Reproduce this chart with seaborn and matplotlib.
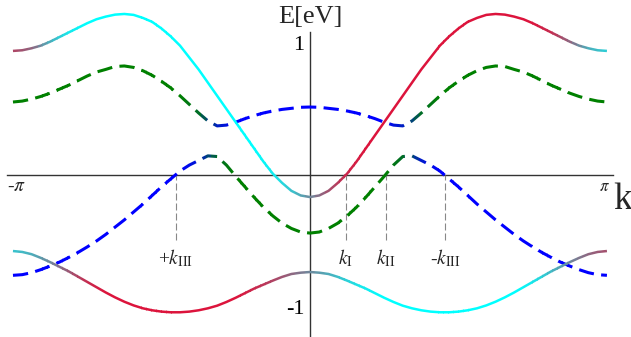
import numpy as np
import matplotlib
matplotlib.use("Agg")
import matplotlib.pyplot as plt
from matplotlib.patches import Rectangle
from matplotlib import colors as mcolors
import seaborn as sns

# bands are even in k: values read for k = 0 .. pi in steps of pi/32
k_half = np.linspace(0, np.pi, 33)

upper_solid_half = [-0.167, -0.155, -0.12, -0.06, 0.01, 0.10, 0.20, 0.30, 0.40, 0.50, 0.60, 0.70, 0.80, 0.89,
                    0.98, 1.05, 1.11, 1.16, 1.19, 1.213, 1.22, 1.215, 1.20, 1.18, 1.15, 1.115, 1.08, 1.045,
                    1.01, 0.98, 0.96, 0.945, 0.94]
lower_solid_half = [-0.735, -0.74, -0.75, -0.772, -0.80, -0.83, -0.86, -0.895, -0.93, -0.962, -0.99, -1.01,
                    -1.025, -1.035, -1.04, -1.04, -1.035, -1.025, -1.01, -0.988, -0.96, -0.927, -0.89, -0.85,
                    -0.81, -0.77, -0.73, -0.695, -0.66, -0.628, -0.60, -0.583, -0.576]
upper_dashed_half = [0.515, 0.513, 0.505, 0.497, 0.485, 0.47, 0.45, 0.427, 0.40, 0.378, 0.372, 0.41, 0.47,
                     0.535, 0.60, 0.66, 0.71, 0.755, 0.79, 0.815, 0.826, 0.822, 0.80, 0.78, 0.75, 0.715, 0.68,
                     0.65, 0.62, 0.595, 0.575, 0.56, 0.553]
lower_dashed_half = [-0.44, -0.432, -0.405, -0.365, -0.31, -0.245, -0.17, -0.09, -0.01, 0.075, 0.14, 0.145,
                     0.11, 0.075, 0.03, -0.03, -0.09, -0.155, -0.22, -0.28, -0.34, -0.395, -0.45, -0.50,
                     -0.545, -0.587, -0.625, -0.66, -0.69, -0.717, -0.74, -0.755, -0.76]

# colour mix along each band on a coarser grid (0 -> first colour, 1 -> second colour)
k_mix = np.linspace(-np.pi, np.pi, 33)
upper_solid_mix = [0.8, 0.65, 0.35, 0.1, 0, 0, 0, 0, 0, 0, 0, 0, 0, 0, 0.08, 0.25,
                   0.5,
                   0.75, 0.92, 1, 1, 1, 1, 1, 1, 1, 1, 1, 1, 0.9, 0.65, 0.35, 0.2]
lower_solid_mix = [0.25, 0.35, 0.5, 0.7, 0.9, 1, 1, 1, 1, 1, 1, 1, 1, 0.92, 0.8, 0.65,
                   0.5,
                   0.35, 0.2, 0.08, 0, 0, 0, 0, 0, 0, 0, 0, 0.1, 0.3, 0.5, 0.65, 0.75]
upper_dashed_mix = [0, 0, 0, 0, 0, 0, 0, 0, 0, 0, 0.15, 0.75, 1, 1, 1, 1,
                    1,
                    1, 1, 1, 1, 0.75, 0.15, 0, 0, 0, 0, 0, 0, 0, 0, 0, 0]
lower_dashed_mix = [1, 1, 1, 1, 1, 1, 1, 1, 1, 1, 0.8, 0.15, 0, 0, 0, 0,
                    0,
                    0, 0, 0, 0, 0.15, 0.8, 1, 1, 1, 1, 1, 1, 1, 1, 1, 1]

# marked Fermi crossings
guide_k = [-1.42, 0.38, 0.80, 1.43]
guide_labels = ['+$k_{\\mathrm{III}}$', '$k_{\\mathrm{I}}$', '$k_{\\mathrm{II}}$', '-$k_{\\mathrm{III}}$']

k = np.concatenate([-k_half[::-1], k_half[1:]])


def mirror(half):
    half = np.asarray(half)
    return np.concatenate([half[::-1], half[1:]])


sns.set_style("white")
plt.rcParams['font.family'] = ['Liberation Serif', 'DejaVu Serif']
plt.rcParams['mathtext.fontset'] = 'stix'

fig = plt.figure(figsize=(6.31, 3.37), dpi=100)
ax = fig.add_axes([7.3 / 631, 0, 605.3 / 631, 1])
ax.set_xlim(-np.pi - 0.06, np.pi + 0.06)
ax.set_ylim(-1.2273, 1.3258)


def draw_band(e, mix, c0, c1, lw, ls, z, nbins=120):
    c0 = np.array(mcolors.to_rgb(c0))
    c1 = np.array(mcolors.to_rgb(c1))
    edges = np.linspace(-np.pi, np.pi, nbins + 1)
    eps = 0.002
    for a, b in zip(edges[:-1], edges[1:]):
        t = np.interp(0.5 * (a + b), k_mix, mix)
        col = (1 - t) * c0 + t * c1
        sns.lineplot(x=k, y=e, ax=ax, color=col, linewidth=lw, linestyle=ls,
                     estimator=None, errorbar=None, legend=False, zorder=z)
        line = ax.lines[-1]
        if a == edges[0]:
            a = a - 0.05
        if b == edges[-1]:
            b = b + 0.05
        line.set_clip_path(Rectangle((a - eps, -5), b - a + 2 * eps, 10, transform=ax.transData))
        line.set_solid_capstyle('butt')


dash = (0, (5, 2.4))
draw_band(mirror(upper_dashed_half), upper_dashed_mix, '#008000', '#0000FF', 2.2, dash, 3)
draw_band(mirror(lower_dashed_half), lower_dashed_mix, '#008000', '#0000FF', 2.2, dash, 3)
draw_band(mirror(upper_solid_half), upper_solid_mix, '#00FFFF', '#DC143C', 1.8, '-', 4)
draw_band(mirror(lower_solid_half), lower_solid_mix, '#00FFFF', '#DC143C', 1.8, '-', 4)

# guides to the crossings
ax.vlines(guide_k, -0.49, 0, colors='#888888', linestyles=(0, (6.3, 2.7)), linewidth=0.8, zorder=2)
for gk, lab in zip(guide_k, guide_labels):
    ax.text(gk, -0.63, lab, ha='center', va='center', fontsize=14)

# axes through the origin
for s in ['top', 'right']:
    ax.spines[s].set_visible(False)
ax.spines['left'].set_position(('data', 0))
ax.spines['bottom'].set_position(('data', 0))
ax.spines['left'].set_bounds(-1.2273, 1.083)
for s in ['left', 'bottom']:
    ax.spines[s].set_color('#333333')
    ax.spines[s].set_linewidth(1.0)
    ax.spines[s].set_zorder(1)
ax.set_axisbelow(True)

ax.set_xticks(np.arange(-4, 5) * np.pi / 4)
ax.set_xticklabels([])
ax.set_yticks([-1, -0.5, 0.5, 1])
ax.set_yticklabels(['-1', '', '', '1'])
ax.tick_params(axis='x', direction='in', length=3.5, width=0.7, colors='#333333')
ax.tick_params(axis='y', direction='in', length=3.5, width=0.7, pad=4, labelsize=16, colors='#333333', labelcolor='black')
ax.set_xlabel('')
ax.set_ylabel('')

ax.text(-3.10, -0.09, '-$\\pi$', ha='center', va='center', fontsize=14)
ax.text(3.12, -0.09, '$\\pi$', ha='center', va='center', fontsize=12)
ax.text(0, 1.20, 'E[eV]', ha='center', va='center', fontsize=19)
ax.text(3.31, -0.19, 'k', ha='center', va='center', fontsize=27, clip_on=False)

fig.savefig('out.png', dpi=100)
